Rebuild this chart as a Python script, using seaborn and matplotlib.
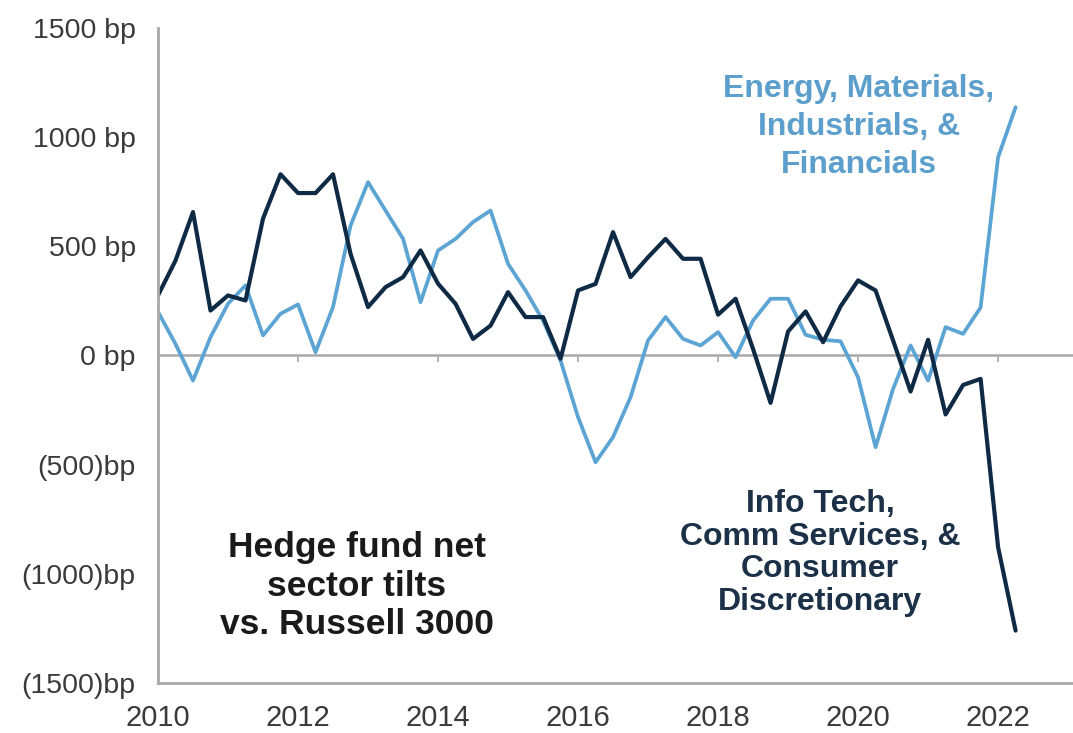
import numpy as np
import matplotlib.pyplot as plt
import pandas as pd
import seaborn as sns

# Quarterly observations, 2010 Q1 .. 2022 Q2
quarters = np.arange(2010, 2022.26, 0.25)

# Energy, Materials, Industrials & Financials (bp)
energy = [200, 53, -115, 84, 237, 321, 92, 191, 234, 15, 222, 595,
          794, 664, 535, 244, 481, 534, 611, 664, 420, 298, 160, -23,
          -282, -489, -374, -191, 69, 176, 76, 46, 107, -8, 160, 260,
          260, 95, 72, 65, -100, -420, -153, 46, -115, 130, 99, 220,
          908, 1137]

# Info Tech, Comm Services & Consumer Discretionary (bp)
tech = [275, 435, 657, 206, 275, 252, 627, 830, 744, 744, 830, 466,
        222, 313, 359, 481, 329, 237, 76, 137, 290, 176, 176, -15,
        298, 328, 565, 359, 450, 534, 443, 443, 187, 260, 30, -217,
        110, 202, 61, 225, 344, 298, 69, -165, 72, -270, -135, -107,
        -878, -1260]

ytick_vals = [-1500, -1000, -500, 0, 500, 1000, 1500]
ytick_labels = ["(1500)bp", "(1000)bp", "(500)bp", "0 bp", "500 bp", "1000 bp", "1500 bp"]
xtick_vals = [2010, 2012, 2014, 2016, 2018, 2020, 2022]

df = pd.DataFrame({"quarter": quarters, "energy": energy, "tech": tech})

light = "#5ba4d4"
dark = "#0f2a45"
gray = "#a8a8a8"

sns.set_theme(style="white")
plt.rcParams["font.family"] = ["Liberation Sans", "DejaVu Sans"]

fig = plt.figure(figsize=(10.73, 7.33), dpi=100)
ax = fig.add_axes([158 / 1073, 50 / 733, 1 - 158 / 1073, 655 / 733])

sns.lineplot(data=df, x="quarter", y="energy", color=light, lw=2.7, ax=ax)
sns.lineplot(data=df, x="quarter", y="tech", color=dark, lw=3.0, ax=ax)

ax.set_xlim(2010, 2023.07)
ax.set_ylim(-1500, 1500)
ax.set_xlabel("")
ax.set_ylabel("")

ax.set_yticks(ytick_vals, ytick_labels)
ax.set_xticks(xtick_vals, [str(v) for v in xtick_vals])
ax.tick_params(axis="y", length=7, width=1.2, color=gray, direction="out",
               pad=9, labelsize=20.5, labelcolor="#3a3a3a")
ax.tick_params(axis="x", length=0, pad=15, labelsize=21, labelcolor="#3a3a3a")

for s in ["top", "right"]:
    ax.spines[s].set_visible(False)
for s in ["left", "bottom"]:
    ax.spines[s].set_color(gray)
    ax.spines[s].set_linewidth(2)

# zero line with its own tick marks (axis crossing at 0)
zero = ax.secondary_xaxis(0.5)
zero.set_xticks(xtick_vals)
zero.set_xticklabels([])
zero.tick_params(axis="x", labelbottom=False, labeltop=False, length=5, width=1.2,
                 color=gray, direction="in")
for s in zero.spines.values():
    s.set_color(gray)
    s.set_linewidth(1.8)

fig.text(859 / 1073, 1 - 127 / 733, "Energy, Materials,\nIndustrials, &\nFinancials",
         ha="center", va="center", fontsize=23, fontweight="bold",
         color="#5c9fcc", linespacing=1.34)
fig.text(820 / 1073, 1 - 553 / 733, "Info Tech,\nComm Services, &\nConsumer\nDiscretionary",
         ha="center", va="center", fontsize=23, fontweight="bold",
         color="#1c3148", linespacing=1.13)
fig.text(357 / 1073, 1 - 586 / 733, "Hedge fund net\nsector tilts\nvs. Russell 3000",
         ha="center", va="center", fontsize=25.5, fontweight="bold",
         color="#1a1a1a", linespacing=1.22)

fig.savefig("out.png", dpi=100)
